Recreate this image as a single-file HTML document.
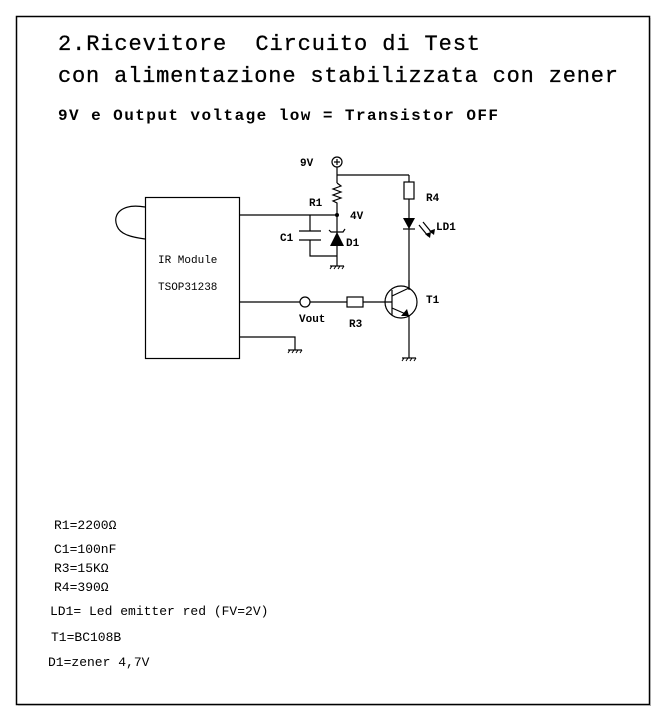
<!DOCTYPE html>
<html><head><meta charset="utf-8"><style>
html,body{margin:0;padding:0;background:#fff;width:666px;height:721px;overflow:hidden}
svg{display:block}
.t{font-family:"Liberation Mono",monospace}
.l{font-family:"Liberation Mono",monospace;font-size:11px;font-weight:bold}
.b{font-family:"Liberation Mono",monospace;font-size:13px}
</style></head><body>
<svg width="666" height="721" viewBox="0 0 666 721">
<rect x="16.5" y="16.5" width="633" height="688" fill="none" stroke="#000" stroke-width="1.5"/>
<line x1="18" y1="705.5" x2="651" y2="705.5" stroke="#aaa"/>
<line x1="650.5" y1="18" x2="650.5" y2="706" stroke="#aaa"/>
<text class="t" x="58" y="50" style="font-size:22px;font-weight:normal;stroke:#000;stroke-width:0.3" textLength="422" xml:space="preserve">2.Ricevitore  Circuito di Test</text>
<text class="t" x="58" y="82" style="font-size:22px;font-weight:normal;stroke:#000;stroke-width:0.3" textLength="560">con alimentazione stabilizzata con zener</text>
<text class="t" x="58" y="120" style="font-size:16px;font-weight:bold" textLength="440">9V e Output voltage low = Transistor OFF</text>
<g fill="none" stroke="#000" stroke-width="1.2">
<rect x="145.5" y="197.5" width="94" height="161"/>
<path d="M145 207 C122 203 112 214 117 226 C120 234 130 237 145 239"/>
<line x1="239" y1="215" x2="337" y2="215"/>
<circle cx="337" cy="162" r="5"/>
<line x1="334" y1="162" x2="340" y2="162"/><line x1="337" y1="159" x2="337" y2="165"/>
<line x1="337" y1="167" x2="337" y2="183"/>
<line x1="337" y1="175" x2="409" y2="175"/>
<polyline points="337,183 341,186 333,189 341,192 333,195 341,198 333,201 337,203 337,215"/>
<line x1="310" y1="215" x2="310" y2="231"/>
<line x1="299" y1="231" x2="321" y2="231"/>
<line x1="299" y1="240" x2="321" y2="240"/>
<polyline points="310,240 310,256 337,256"/>
<line x1="337" y1="215" x2="337" y2="266"/>
<polyline points="329,230 331,232 343,232 345,229"/>
<line x1="409" y1="175" x2="409" y2="182"/>
<rect x="404" y="182" width="10" height="17"/>
<line x1="409" y1="199" x2="409" y2="290"/>
<line x1="403" y1="229" x2="415" y2="229"/>
<line x1="419" y1="225" x2="428" y2="236"/>
<line x1="423" y1="222" x2="432" y2="233"/>
<line x1="239" y1="302" x2="300" y2="302"/>
<circle cx="305" cy="302" r="5"/>
<line x1="310" y1="302" x2="347" y2="302"/>
<rect x="347" y="297" width="16" height="10"/>
<line x1="363" y1="302" x2="392" y2="302"/>
<circle cx="401" cy="302" r="16"/>
<line x1="392" y1="290" x2="392" y2="315"/>
<line x1="392" y1="296" x2="409" y2="288"/>
<line x1="392" y1="308" x2="408" y2="315"/>
<line x1="409" y1="288" x2="409" y2="280"/>
<line x1="409" y1="315" x2="409" y2="358"/>
<polyline points="239,337 295,337 295,350"/>
<line x1="330" y1="266" x2="344" y2="266"/>
<line x1="402" y1="358" x2="416" y2="358"/>
<line x1="288" y1="350" x2="302" y2="350"/>
</g>
<g stroke="#000" stroke-width="1">
<path d="M332 266l-2 3M336 266l-2 3M340 266l-2 3M344 266l-2 3"/>
<path d="M404 358l-2 3M408 358l-2 3M412 358l-2 3M416 358l-2 3"/>
<path d="M290 350l-2 3M294 350l-2 3M298 350l-2 3M302 350l-2 3"/>
</g>
<polygon points="330,246 344,246 337,232" fill="#000"/>
<polygon points="403,218 415,218 409,229" fill="#000"/>
<polygon points="430,238 425,234 431,232" fill="#000"/>
<polygon points="434,235 429,231 435,229" fill="#000"/>
<polygon points="409,316 401,316 407,309" fill="#000"/>
<circle cx="337" cy="215" r="2" fill="#000"/>
<text class="l" x="300" y="166">9V</text>
<text class="l" x="309" y="206">R1</text>
<text class="l" x="350" y="219">4V</text>
<text class="l" x="280" y="241">C1</text>
<text class="l" x="346" y="246">D1</text>
<text class="l" x="426" y="201">R4</text>
<text class="l" x="436" y="230">LD1</text>
<text class="l" x="426" y="303">T1</text>
<text class="l" x="299" y="322">Vout</text>
<text class="l" x="349" y="327">R3</text>
<text class="b" x="158" y="263" style="font-size:11px">IR Module</text>
<text class="b" x="158" y="290" style="font-size:11px">TSOP31238</text>
<text class="b" x="54" y="529">R1=2200Ω</text>
<text class="b" x="54" y="553">C1=100nF</text>
<text class="b" x="54" y="572">R3=15KΩ</text>
<text class="b" x="54" y="591">R4=390Ω</text>
<text class="b" x="50" y="615">LD1= Led emitter red (FV=2V)</text>
<text class="b" x="51" y="641">T1=BC108B</text>
<text class="b" x="48" y="666">D1=zener 4,7V</text>
</svg>
</body></html>
